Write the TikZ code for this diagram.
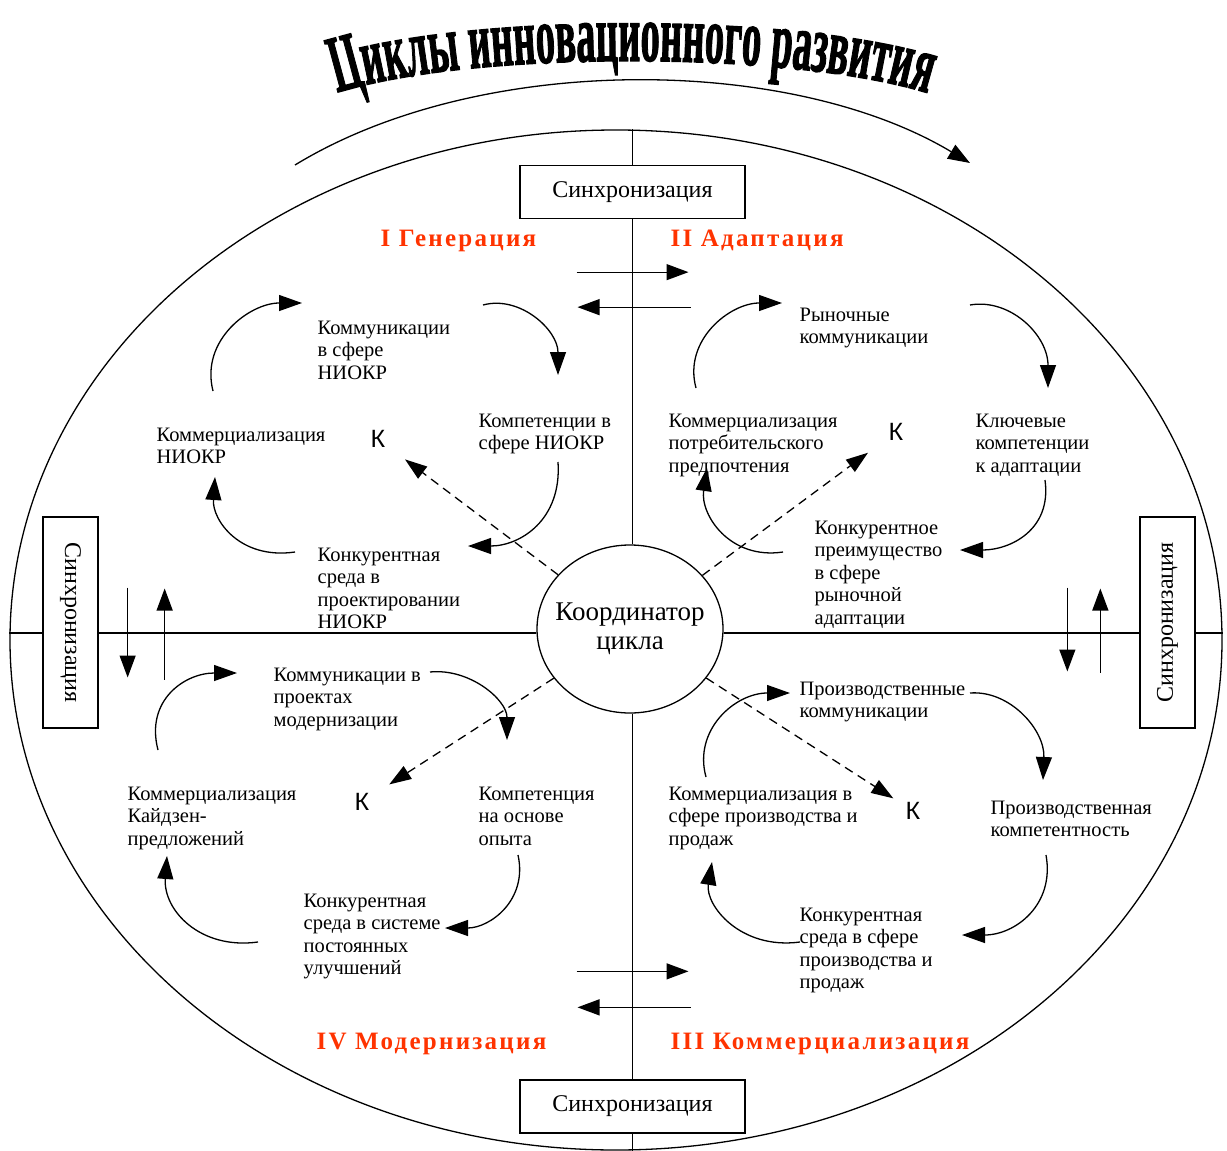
\documentclass[tikz,border=0pt]{standalone}
\usepackage{fontspec}
\setmainfont{Liberation Serif}
\setsansfont{Liberation Sans}
\newfontfamily\phasefont[LetterSpace=9]{Liberation Serif}
\newfontfamily\titlefont{Liberation Serif}[BoldFeatures={FakeBold=2}]
\usetikzlibrary{arrows.meta,shapes.geometric,decorations.text}
\definecolor{phasered}{RGB}{255,51,0}
\tikzset{
  txt/.style={anchor=north west, align=left, inner sep=0pt, font=\fontsize{20.5}{22.5}\selectfont},
  phase/.style={anchor=base west, inner sep=0pt, text=phasered, font=\phasefont\bfseries\fontsize{25}{25}\selectfont},
  sync/.style={draw, minimum width=225, minimum height=53, inner sep=0pt, font=\fontsize{24}{24}\selectfont},
  kk/.style={inner sep=0pt, font=\sffamily\fontsize{25}{25}\selectfont},
  cyc/.style={-{Triangle[length=23pt,width=16pt]}},
  dash arrow/.style={dash pattern=on 9pt off 6pt, -{Triangle[length=22pt,width=15pt]}},
  sync arrow/.style={-{Triangle[length=22pt,width=16pt]}}
}

\begin{document}
\begin{tikzpicture}[x=1pt, y=-1pt, line width=1.3pt]
    \useasboundingbox (0,0) rectangle (1227,1151);

    \path [decorate, decoration={text effects along path, text={Циклы инновационного развития}, text align=center,
           text effects/.cd, text along path, characters={font=\titlefont\bfseries\fontsize{38.5}{38.5}\selectfont, yscale=2.1, anchor=base}}]
          (300,108) .. controls (410,45) and (850,45) .. (965,108);
    \draw [sync arrow] (295,165) .. controls (480,52) and (790,55) .. (970,163);

    \node [draw, ellipse, minimum width=1212, minimum height=1020, inner sep=0pt] (orbit) at (616,640) {};
    \node [draw, ellipse, minimum width=186, minimum height=168, inner sep=0pt]   (koord) at (630,629) {};
    \node [align=center, font=\fontsize{27}{29}\selectfont]                        (koordtxt) at (koord) {Координатор\\цикла};

    \node [sync]                                            (synT) at (632.5,192)    {Синхронизация};
    \node [sync]                                            (synB) at (632.5,1106.5) {Синхронизация};
    \node [sync] [rotate=-90] [minimum width=211, minimum height=55] (synL) at (70.5,622.5)   {Синхронизация};
    \node [sync] [rotate=90]  [minimum width=211, minimum height=55] (synR) at (1167.5,622.5) {Синхронизация};

    \coordinate (hub) at (632.5,633);
    \draw (hub -| orbit.west)  -- (hub -| synL.south);
    \draw (hub -| synL.north)  -- (hub -| koord.west);
    \draw (hub -| koord.east)  -- (hub -| synR.north);
    \draw (hub -| synR.south)  -- (hub -| orbit.east);
    \draw (hub |- orbit.north) -- (hub |- synT.north);
    \draw (hub |- synT.south)  -- (hub |- koord.north);
    \draw (hub |- koord.south) -- (hub |- synB.north);
    \draw (hub |- synB.south)  -- (hub |- orbit.south);

    \draw [sync arrow] ([shift={(-56,53)}]synT.south)  -- ++(112,0);
    \draw [sync arrow] ([shift={(58,88)}]synT.south)   -- ++(-113,0);
    \draw [sync arrow] ([shift={(-56,-108)}]synB.north) -- ++(112,0);
    \draw [sync arrow] ([shift={(58,-72)}]synB.north)  -- ++(-113,0);
    \draw [sync arrow] ([shift={(29,-35)}]synL.north)  -- ++(0,90);
    \draw [sync arrow] ([shift={(66,57)}]synL.north)   -- ++(0,-91);
    \draw [sync arrow] ([shift={(-72,-35)}]synR.north) -- ++(0,84);
    \draw [sync arrow] ([shift={(-39,50)}]synR.north)  -- ++(0,-84);

    \node [phase] (phI)   at (380,246)  {I Генерация};
    \node [phase] (phII)  at (670,246)  {II Адаптация};
    \node [phase] (phIV)  at (316,1049) {IV Модернизация};
    \node [phase] (phIII) at (670,1049) {III Коммерциализация};

    % I
    \node [txt] (komI)  at (317,320) {Коммуникации\\в сфере\\НИОКР};
    \node [txt] (kompI) at (478,413) {Компетенции в\\сфере НИОКР};
    \node [txt] (kommI) at (156,427) {Коммерциализация\\НИОКР};
    \node [txt] (konkI) at (317,547) {Конкурентная\\среда в\\проектировании\\НИОКР};
    \node [kk]  (kI)    at (378,439) {К};
    % II
    \node [txt] (komII)  at (799,307) {Рыночные\\коммуникации};
    \node [txt] (kompII) at (975,413) {Ключевые\\компетенции\\к адаптации};
    \node [txt] (kommII) at (668,413) {Коммерциализация\\потребительского\\предпочтения};
    \node [txt] (konkII) at (814,520) {Конкурентное\\преимущество\\в сфере\\рыночной\\адаптации};
    \node [kk]  (kII)    at (896,432) {К};
    % III
    \node [txt] (komIII)  at (799,681) {Производственные\\коммуникации};
    \node [txt] (kompIII) at (990,800) {Производственная\\компетентность};
    \node [txt] (kommIII) at (668,786) {Коммерциализация в\\сфере производства и\\продаж};
    \node [txt] (konkIII) at (799,907) {Конкурентная\\среда в сфере\\производства и\\продаж};
    \node [kk]  (kIII)    at (913,811) {К};
    % IV
    \node [txt] (komIV)  at (273,667) {Коммуникации в\\проектах\\модернизации};
    \node [txt] (kompIV) at (478,786) {Компетенция\\на основе\\опыта};
    \node [txt] (kommIV) at (127,786) {Коммерциализация\\Кайдзен-\\предложений};
    \node [txt] (konkIV) at (303,893) {Конкурентная\\среда в системе\\постоянных\\улучшений};
    \node [kk]  (kIV)    at (362,802) {К};

    \draw [dash arrow, shorten >=24pt] (koord) -- (kI);
    \draw [dash arrow, shorten >=25pt] (koord) -- (kII);
    \draw [dash arrow, shorten >=14pt] (koord) -- (kIII);
    \draw [dash arrow, shorten >=23pt] (koord) -- (kIV);

    \coordinate (g1) at (213,391);  \coordinate (g2) at (302,303);
    \coordinate (g3) at (483,305);  \coordinate (g4) at (558,375);
    \coordinate (g5) at (558,462);  \coordinate (g6) at (468,546);
    \coordinate (g7) at (295,552);  \coordinate (g8) at (215,477);
    \coordinate (a1) at (696,388);  \coordinate (a2) at (782,303);
    \coordinate (a3) at (970,305);  \coordinate (a4) at (1048,388);
    \coordinate (a5) at (1045,480); \coordinate (a6) at (960,550);
    \coordinate (a7) at (783,552);  \coordinate (a8) at (707,468);
    \coordinate (k1) at (706,777);  \coordinate (k2) at (790,693);
    \coordinate (k3) at (970,693);  \coordinate (k4) at (1043,780);
    \coordinate (k5) at (1046,855); \coordinate (k6) at (962,935);
    \coordinate (k7) at (800,942);  \coordinate (k8) at (712,862);
    \coordinate (m1) at (158,750);  \coordinate (m2) at (237,673);
    \coordinate (m3) at (430,672);  \coordinate (m4) at (507,740);
    \coordinate (m5) at (518,855);  \coordinate (m6) at (445,928);
    \coordinate (m7) at (258,942);  \coordinate (m8) at (167,856);

    \draw [cyc] (g1) .. controls +(-13,-51) and +(-52,0) .. (g2);
    \draw [cyc] (g3) .. controls +(37,-10)  and +(0,-45)  .. (g4);
    \draw [cyc] (g5) .. controls +(4,58)    and +(52,0)   .. (g6);
    \draw [cyc] (g7) .. controls +(-55,8)   and +(-3,43)  .. (g8);
    \draw [cyc] (a1) .. controls +(-13,-48) and +(-52,0)  .. (a2);
    \draw [cyc] (a3) .. controls +(40,-7)   and +(0,-53)  .. (a4);
    \draw [cyc] (a5) .. controls +(7,50)    and +(50,0)   .. (a6);
    \draw [cyc] (a7) .. controls +(-53,8)   and +(-7,47)  .. (a8);
    \draw [cyc] (k1) .. controls +(-13,-47) and +(-55,0)  .. (k2);
    \draw [cyc] (k3) .. controls +(40,-3)   and +(2,-50)  .. (k4);
    \draw [cyc] (k5) .. controls +(9,50)    and +(53,0)   .. (k6);
    \draw [cyc] (k7) .. controls +(-60,8)   and +(-7,43)  .. (k8);
    \draw [cyc] (m1) .. controls +(-13,-50) and +(-52,0)  .. (m2);
    \draw [cyc] (m3) .. controls +(40,-4)   and +(0,-40)  .. (m4);
    \draw [cyc] (m5) .. controls +(10,45)   and +(45,0)   .. (m6);
    \draw [cyc] (m7) .. controls +(-58,8)   and +(-4,54)  .. (m8);
\end{tikzpicture}
\end{document}
